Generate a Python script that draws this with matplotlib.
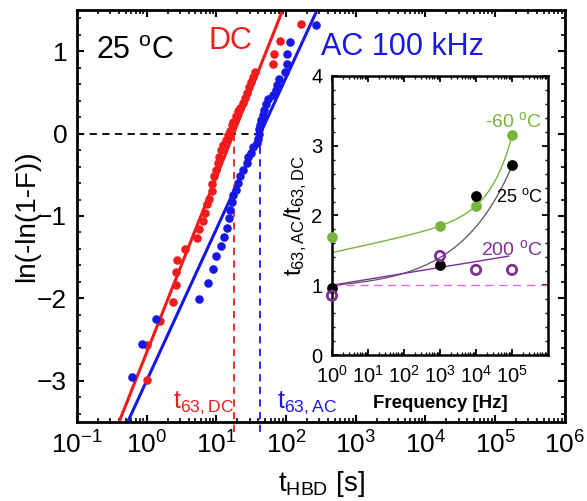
import numpy as np
import matplotlib
matplotlib.use("Agg")
import matplotlib.pyplot as plt
from matplotlib.ticker import LogLocator, MultipleLocator, NullFormatter, FixedLocator

plt.rcParams['font.family'] = ['Liberation Sans', 'DejaVu Sans']
plt.rcParams['mathtext.fontset'] = 'custom'
plt.rcParams['mathtext.rm'] = 'Liberation Sans'
plt.rcParams['mathtext.it'] = 'Liberation Sans:italic'
plt.rcParams['mathtext.bf'] = 'Liberation Sans:bold'

# ---- main Weibull plot data ----
t_dc = [1.0, 1.0, 1.55, 2.41, 2.63, 2.63, 2.75, 3.55, 5.21, 5.69, 6.35, 6.85, 7.41, 7.91,
        8.55, 8.71, 9.33, 9.86, 10.5, 11.0, 11.6, 12.6, 13.7, 14.8, 15.7, 16.6, 17.5,
        19.1, 20.6, 21.8, 24.3, 25.7, 27.7, 29.6, 31.3, 33.1, 35.8, 65.5, 67.0, 81.7, 164]
w_dc = [-2.99, -2.57, -2.27, -2.04, -1.84, -1.68, -1.53, -1.40, -1.27, -1.16, -1.06, -0.96,
        -0.85, -0.79, -0.70, -0.61, -0.52, -0.44, -0.36, -0.28, -0.20, -0.14, -0.08, -0.02,
        0.03, 0.10, 0.14, 0.21, 0.27, 0.31, 0.37, 0.43, 0.49, 0.57, 0.63, 0.69, 0.75, 0.85,
        0.97, 1.12, 1.33]

t_ac = [0.622, 0.865, 1.36, 5.69, 7.50, 8.85, 9.86, 11.6, 12.9, 14.4, 15.0, 15.7, 16.6, 17.5,
        19.1, 20.2, 21.8, 24.3, 27.2, 28.7, 31.0, 33.9, 37.8, 40.0, 40.3, 40.8, 42.3, 44.1,
        46.1, 48.2, 51.5, 55.6, 65.5, 71.6, 74.8, 79.8, 96.4, 102, 104, 114, 269]
w_ac = [-2.96, -2.55, -2.25, -2.01, -1.81, -1.64, -1.49, -1.37, -1.25, -1.14, -1.03, -0.93,
        -0.83, -0.75, -0.68, -0.60, -0.52, -0.44, -0.36, -0.28, -0.23, -0.16, -0.11, -0.06,
        0.00, 0.05, 0.10, 0.17, 0.23, 0.29, 0.36, 0.42, 0.47, 0.53, 0.59, 0.66, 0.75, 0.85,
        0.97, 1.11, 1.32]

# Weibull fit parameters (slope in ln(-ln(1-F)) per decade, t63 in s)
t63_dc = 17.7
t63_ac = 42.7
slope_dc = 2.13
slope_ac = 1.84

# ---- inset data ----
freq = [1, 1e3, 1e4, 1e5]
ratio_m60 = [1.69, 1.85, 2.14, 3.15]
ratio_25 = [0.96, 1.29, 2.28, 2.72]
ratio_200 = [0.85, 1.42, 1.22, 1.22]
# guide-curve parameters: y = a + b * f**c + d * log10(f)
fit_m60 = (1.467, 0.00035, 0.7, 0.113)
fit_25 = (0.94, 0.06, 0.294, 0.0)
fit_200 = (1.0, 0.0, 1.0, 0.085)
fit_200_fmax = 8e4

red = '#f01c1c'
blue = '#1818e6'
green = '#78b43c'
purple = '#7d2f96'
magenta = '#e266e2'

fig = plt.figure(figsize=(5.87, 5.01), dpi=100)
ax = fig.add_axes([0.131, 0.1577, 0.8314, 0.8224])
ax.set_xscale('log')
ax.set_xlim(1e-1, 1e6)
ax.set_ylim(-3.5, 1.5)

tl = np.logspace(-1, 3, 200)
ax.plot(tl, slope_dc * (np.log10(tl) - np.log10(t63_dc)), color=red, lw=2.2)
ax.plot(tl, slope_ac * (np.log10(tl) - np.log10(t63_ac)), color=blue, lw=2.2)
ax.scatter(t_dc, w_dc, s=38, color=red, zorder=3, linewidths=0)
ax.scatter(t_ac, w_ac, s=38, color=blue, zorder=3, linewidths=0)

ax.plot([1e-1, t63_ac], [0, 0], color='k', lw=1.3, ls=(0, (4, 3)))
ax.plot([t63_dc, t63_dc], [0, -3.62], color=red, lw=1.3, ls=(0, (4, 3)), clip_on=False)
ax.plot([t63_ac, t63_ac], [0, -3.62], color=blue, lw=1.3, ls=(0, (4, 3)), clip_on=False)

ax.xaxis.set_major_locator(LogLocator(base=10, numticks=20))
ax.xaxis.set_minor_locator(LogLocator(base=10, subs=np.arange(2, 10), numticks=20))
ax.xaxis.set_minor_formatter(NullFormatter())
ax.yaxis.set_major_locator(MultipleLocator(1))
ax.yaxis.set_minor_locator(MultipleLocator(0.2))
ax.tick_params(which='both', direction='in', top=True, right=True)
ax.tick_params(which='major', length=5, width=1.5, labelsize=19, pad=7)
ax.tick_params(which='minor', length=3, width=1.2)
for s in ax.spines.values():
    s.set_linewidth(2)

ax.set_xlabel(r'$\mathregular{t_{HBD}}$ [s]', fontsize=20, labelpad=7)
ax.set_ylabel('ln(-ln(1-F))', fontsize=20, labelpad=-2)

ax.text(0.04, 0.90, r'25 $^{\mathregular{o}}$C', transform=ax.transAxes, fontsize=22, va='center')
ax.text(0.27, 0.925, 'DC', transform=ax.transAxes, color=red, fontsize=22, va='center')
ax.text(0.50, 0.91, 'AC 100 kHz', transform=ax.transAxes, color=blue, fontsize=22, va='center')
ax.text(t63_dc * 1.0, -3.27, r'$\mathregular{t_{63,DC}}$', color=red, fontsize=18, ha='right', va='center')
ax.text(t63_ac * 1.75, -3.27, r'$\mathregular{t_{63,AC}}$', color=blue, fontsize=18, ha='left', va='center')

# ---- inset ----
ins = fig.add_axes([0.5656, 0.2914, 0.368, 0.557])
ins.set_facecolor('white')
ins.set_xscale('log')
ins.set_xlim(1, 1e6)
ins.set_ylim(0, 4)


def guide(f, p):
    a, b, c, d = p
    return a + b * f ** c + d * np.log10(f)


fl = np.logspace(0, 5, 200)
ins.plot(fl, guide(fl, fit_m60), color=green, lw=1.0)
ins.plot(fl, guide(fl, fit_25), color='#555555', lw=0.9)
fl2 = np.logspace(0, np.log10(fit_200_fmax), 200)
ins.plot(fl2, guide(fl2, fit_200), color=purple, lw=1.0)
ins.plot([1, 1e6], [1, 1], color=magenta, lw=1.0, ls=(0, (6, 4)))

ins.scatter(freq, ratio_m60, s=60, color=green, zorder=3, linewidths=0, clip_on=False)
ins.scatter(freq, ratio_25, s=60, color='k', zorder=4, linewidths=0, clip_on=False)
ins.scatter(freq, ratio_200, s=45, facecolors='none', edgecolors=purple, linewidths=2,
            zorder=5, clip_on=False)

ins.xaxis.set_major_locator(FixedLocator([1, 1e1, 1e2, 1e3, 1e4, 1e5]))
ins.xaxis.set_minor_locator(LogLocator(base=10, subs=np.arange(2, 10), numticks=20))
ins.xaxis.set_minor_formatter(NullFormatter())
ins.yaxis.set_major_locator(MultipleLocator(1))
ins.yaxis.set_minor_locator(MultipleLocator(0.2))
ins.tick_params(which='both', direction='in', top=True, right=True)
ins.tick_params(which='major', length=4, width=1.3, labelsize=14.5, pad=7)
ins.tick_params(axis='x', which='major', pad=7)
ins.tick_params(which='minor', length=2.5, width=1.0)
for s in ins.spines.values():
    s.set_linewidth(1.8)

ins.set_xlabel('Frequency [Hz]', fontsize=13.5, fontweight='bold', labelpad=6)
ins.set_ylabel(r'$\mathregular{t_{63,AC}/t_{63,DC}}$', fontsize=17, labelpad=1.5)

ins.text(0.975, 0.84, r'-60 $^{\mathregular{o}}$C', transform=ins.transAxes, color=green,
         fontsize=14, ha='right', va='center')
ins.text(0.975, 0.566, r'25 $^{\mathregular{o}}$C', transform=ins.transAxes, color='k',
         fontsize=13, ha='right', va='center')
ins.text(0.975, 0.38, r'200 $^{\mathregular{o}}$C', transform=ins.transAxes, color=purple,
         fontsize=14, ha='right', va='center')

fig.savefig('out.png', dpi=100)
